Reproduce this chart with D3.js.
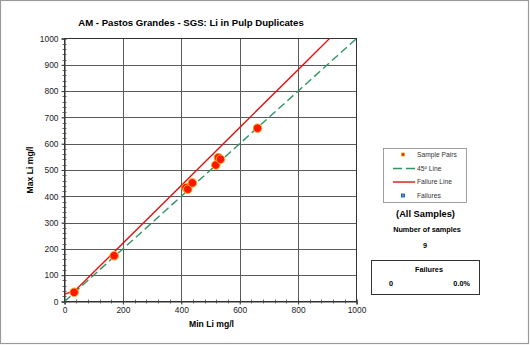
<!DOCTYPE html>
<html><head><meta charset="utf-8">
<script src="https://cdn.jsdelivr.net/npm/d3@7"></script>
<style>body{margin:0;background:#fff}svg{display:block}text{font-family:"Liberation Sans",Arial,sans-serif}</style>
</head><body><svg id="c" width="530" height="345"></svg>
<script>
const minLi = [33, 170, 416, 422, 438, 518, 527, 534, 661];
const maxLi = [35, 174, 433, 427, 451, 519, 547, 541, 659];
const failX = [0, 35, 200, 400, 600, 800, 910];
const failY = [28, 40, 221.5, 441.5, 661.5, 881.5, 1002.5];
const lineX = [0, 1000];
const xTicks = [0, 200, 400, 600, 800, 1000];
const yTicks = [0, 100, 200, 300, 400, 500, 600, 700, 800, 900, 1000];
const title = "AM - Pastos Grandes - SGS: Li in Pulp Duplicates";
const legendLabels = ["Sample Pairs", "45º Line", "Failure Line", "Failures"];
const nSamples = 9, nFail = 0, failPct = "0.0%";

const svg = d3.select("#c");
const L = 64.5, R = 356.5, T = 38.5, B = 301.5;
const x = d3.scaleLinear().domain([0, 1000]).range([L, R]);
const y = d3.scaleLinear().domain([0, 1000]).range([B, T]);

svg.append("rect").attr("x", 0.5).attr("y", 0.5).attr("width", 528).attr("height", 343)
  .attr("fill", "#fff").attr("stroke", "#9a9a9a").attr("stroke-width", 1.2);

svg.append("text").attr("x", 191).attr("y", 26).attr("text-anchor", "middle")
  .attr("font-size", 9.6).attr("font-weight", "bold").text(title);

// grid
const g = svg.append("g");
g.selectAll(".gx").data(xTicks.slice(1, -1)).join("line")
  .attr("x1", d => Math.round(x(d)) + 0.5).attr("x2", d => Math.round(x(d)) + 0.5)
  .attr("y1", T).attr("y2", B).attr("stroke", "#5a5a5a").attr("stroke-width", 1);
g.selectAll(".gy").data(yTicks.slice(1, -1)).join("line")
  .attr("y1", d => Math.round(y(d)) + 0.5).attr("y2", d => Math.round(y(d)) + 0.5)
  .attr("x1", L).attr("x2", R).attr("stroke", "#5a5a5a").attr("stroke-width", 1);
svg.append("rect").attr("x", L).attr("y", T).attr("width", R - L).attr("height", B - T)
  .attr("fill", "none").attr("stroke", "#333").attr("stroke-width", 1);

// axes
const fmt = d3.format("d");
const xAxis = d3.axisBottom(x).tickValues(xTicks).tickFormat(fmt).tickSize(3).tickPadding(3);
const yAxis = d3.axisLeft(y).tickValues(yTicks).tickFormat(fmt).tickSize(3).tickPadding(3);
const xa = svg.append("g").attr("transform", `translate(0,${B})`).call(xAxis);
const ya = svg.append("g").attr("transform", `translate(${L},0)`).call(yAxis);
[xa, ya].forEach(a => {
  a.select(".domain").attr("stroke", "#333");
  a.selectAll(".tick line").attr("stroke", "#333");
  a.selectAll("text").attr("font-size", 8.4).attr("fill", "#222")
    .style("font-family", "Liberation Sans, Arial, sans-serif");
});
// minor ticks
svg.append("g").selectAll("line").data(d3.range(0, 1001, 20)).join("line")
  .attr("x1", L - 2).attr("x2", L + 2).attr("y1", d => Math.round(y(d)) + 0.5).attr("y2", d => Math.round(y(d)) + 0.5)
  .attr("stroke", "#444").attr("stroke-width", 0.8);
svg.append("g").selectAll("line").data(d3.range(0, 1001, 40)).join("line")
  .attr("y1", B - 2).attr("y2", B + 2).attr("x1", d => Math.round(x(d)) + 0.5).attr("x2", d => Math.round(x(d)) + 0.5)
  .attr("stroke", "#444").attr("stroke-width", 0.8);

svg.append("text").attr("x", 211.5).attr("y", 327).attr("text-anchor", "middle")
  .attr("font-size", 8.6).attr("font-weight", "bold").text("Min Li mg/l");
svg.append("text").attr("transform", "translate(32.5,170) rotate(-90)").attr("text-anchor", "middle")
  .attr("font-size", 8.6).attr("font-weight", "bold").text("Max Li mg/l");

// lines
svg.append("clipPath").attr("id", "pc").append("rect")
  .attr("x", L).attr("y", T).attr("width", R - L).attr("height", B - T);
const line = d3.line().x(d => x(d[0])).y(d => y(d[1]));
svg.append("path").attr("clip-path", "url(#pc)")
  .datum(lineX.map(v => [v, v])).attr("d", line)
  .attr("fill", "none").attr("stroke", "#2e9461").attr("stroke-width", 1.4).attr("stroke-dasharray", "8,4");
svg.append("path").attr("clip-path", "url(#pc)")
  .datum(failX.map((v, i) => [v, failY[i]])).attr("d", line)
  .attr("fill", "none").attr("stroke", "#e01010").attr("stroke-width", 1.4);

// points
svg.append("g").selectAll("circle").data(minLi.map((v, i) => [v, maxLi[i]])).join("circle")
  .attr("cx", d => x(d[0])).attr("cy", d => y(d[1])).attr("r", 4.3)
  .attr("fill", "#ff1500").attr("stroke", "#ffb020").attr("stroke-width", 1);

// legend
const lg = svg.append("g");
lg.append("rect").attr("x", 383.5).attr("y", 148.5).attr("width", 83).attr("height", 54)
  .attr("fill", "#fff").attr("stroke", "#888").attr("stroke-width", 0.8);
const ly = [154.5, 168.5, 182, 195.5];
lg.append("rect").attr("x", 401.5).attr("y", ly[0] - 1.5).attr("width", 3).attr("height", 3)
  .attr("fill", "#e02000").attr("stroke", "#ffa000").attr("stroke-width", 0.8);
lg.append("line").attr("x1", 393).attr("x2", 415).attr("y1", ly[1]).attr("y2", ly[1])
  .attr("stroke", "#2e9461").attr("stroke-width", 1.4).attr("stroke-dasharray", "9,4");
lg.append("line").attr("x1", 393).attr("x2", 415).attr("y1", ly[2]).attr("y2", ly[2])
  .attr("stroke", "#e01010").attr("stroke-width", 1.4);
lg.append("rect").attr("x", 401.5).attr("y", ly[3] - 1.5).attr("width", 3).attr("height", 3)
  .attr("fill", "#4a9be8").attr("stroke", "#0b4fa0").attr("stroke-width", 0.8);
lg.selectAll("text").data(legendLabels).join("text")
  .attr("x", 417).attr("y", (d, i) => ly[i] + 2.3).attr("font-size", 6.7).attr("fill", "#333").text(d => d);

svg.append("text").attr("x", 425.5).attr("y", 217).attr("text-anchor", "middle")
  .attr("font-size", 9.3).attr("font-weight", "bold").text("(All Samples)");
svg.append("text").attr("x", 427).attr("y", 232).attr("text-anchor", "middle")
  .attr("font-size", 7.3).attr("font-weight", "bold").text("Number of samples");
svg.append("text").attr("x", 425).attr("y", 248).attr("text-anchor", "middle")
  .attr("font-size", 7.3).attr("font-weight", "bold").text(nSamples);

svg.append("rect").attr("x", 371.5).attr("y", 260.5).attr("width", 108).attr("height", 34)
  .attr("fill", "#fff").attr("stroke", "#333").attr("stroke-width", 1);
svg.append("text").attr("x", 429).attr("y", 272).attr("text-anchor", "middle")
  .attr("font-size", 7.3).attr("font-weight", "bold").text("Failures");
svg.append("text").attr("x", 391).attr("y", 286).attr("text-anchor", "middle")
  .attr("font-size", 7.3).attr("font-weight", "bold").text(nFail);
svg.append("text").attr("x", 470).attr("y", 286).attr("text-anchor", "end")
  .attr("font-size", 7.3).attr("font-weight", "bold").text(failPct);
</script></body></html>
